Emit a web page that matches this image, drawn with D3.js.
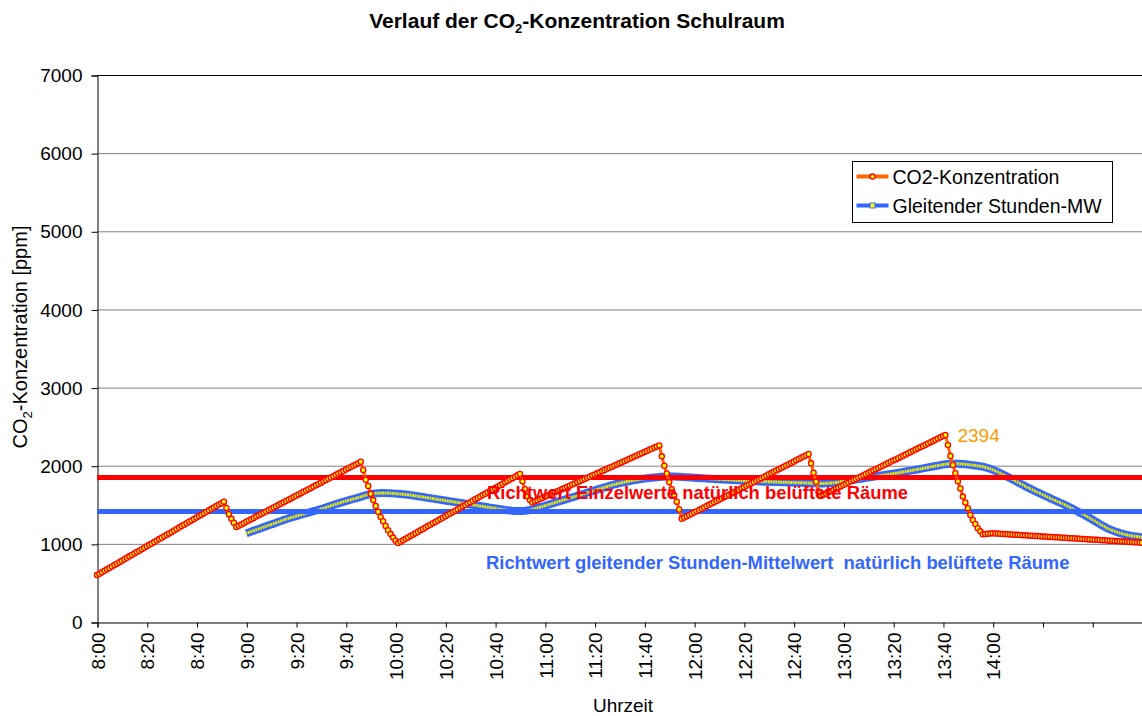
<!DOCTYPE html>
<html>
<head>
<meta charset="utf-8">
<script src="https://cdn.jsdelivr.net/npm/d3@7"></script>
<style>
  body { margin: 0; background: #fff; }
  svg { font-family: "Liberation Sans", Arial, sans-serif; }
</style>
</head>
<body>
<div id="chart"></div>
<script>
// x positions are minutes after 8:00, one reading per minute
var tickMinutes = [0, 20, 40, 60, 80, 100, 120, 140, 160, 180, 200, 220, 240, 260, 280, 300, 320, 340, 360, 380, 400];
var tickLabels = ["8:00", "8:20", "8:40", "9:00", "9:20", "9:40", "10:00", "10:20", "10:40", "11:00", "11:20",
    "11:40", "12:00", "12:20", "12:40", "13:00", "13:20", "13:40", "14:00", "", ""];
var yTicks = [0, 1000, 2000, 3000, 4000, 5000, 6000, 7000];

// CO2 readings, from 8:00 (minute 0) to 15:00 (minute 420)
var co2Start = 0;
var co2Values = [
    600, 618, 637, 655, 674, 692, 711, 729, 747, 766, 784, 803, 821, 840, 858, 876, 895, 913, 932, 950,
    969, 987, 1005, 1024, 1042, 1061, 1079, 1098, 1116, 1134, 1153, 1171, 1190, 1208, 1227, 1245, 1263, 1282, 1300, 1319,
    1337, 1356, 1374, 1392, 1411, 1429, 1448, 1466, 1485, 1503, 1521, 1540, 1460, 1380, 1320, 1270, 1215, 1232, 1248, 1265,
    1282, 1299, 1315, 1332, 1349, 1365, 1382, 1399, 1415, 1432, 1449, 1466, 1482, 1499, 1516, 1532, 1549, 1566, 1582, 1599,
    1616, 1633, 1649, 1666, 1683, 1699, 1716, 1733, 1749, 1766, 1783, 1800, 1816, 1833, 1850, 1866, 1883, 1900, 1916, 1933,
    1950, 1967, 1983, 2000, 2017, 2033, 2050, 1945, 1820, 1740, 1640, 1560, 1485, 1410, 1345, 1290, 1230, 1175, 1125, 1080,
    1040, 1010, 1028, 1046, 1064, 1082, 1100, 1118, 1136, 1154, 1173, 1191, 1209, 1227, 1245, 1263, 1281, 1299, 1317, 1335,
    1353, 1371, 1389, 1407, 1425, 1443, 1461, 1480, 1498, 1516, 1534, 1552, 1570, 1588, 1606, 1624, 1642, 1660, 1678, 1696,
    1714, 1732, 1750, 1768, 1787, 1805, 1823, 1841, 1859, 1877, 1895, 1800, 1700, 1605, 1560, 1530, 1544, 1559, 1573, 1587,
    1602, 1616, 1630, 1645, 1659, 1673, 1687, 1702, 1716, 1730, 1745, 1759, 1773, 1788, 1802, 1816, 1831, 1845, 1859, 1874,
    1888, 1902, 1917, 1931, 1945, 1960, 1974, 1988, 2003, 2017, 2031, 2045, 2060, 2074, 2088, 2103, 2117, 2131, 2146, 2160,
    2174, 2189, 2203, 2217, 2232, 2246, 2260, 2120, 2000, 1900, 1790, 1700, 1620, 1540, 1440, 1320, 1336, 1353, 1369, 1385,
    1401, 1418, 1434, 1450, 1466, 1483, 1499, 1515, 1532, 1548, 1564, 1580, 1597, 1613, 1629, 1645, 1662, 1678, 1694, 1711,
    1727, 1743, 1759, 1776, 1792, 1808, 1824, 1841, 1857, 1873, 1890, 1906, 1922, 1938, 1955, 1971, 1987, 2003, 2020, 2036,
    2052, 2069, 2085, 2101, 2117, 2134, 2150, 2030, 1910, 1795, 1670, 1612, 1628, 1643, 1659, 1675, 1690, 1706, 1721, 1737,
    1753, 1768, 1784, 1800, 1815, 1831, 1847, 1862, 1878, 1894, 1909, 1925, 1941, 1956, 1972, 1988, 2003, 2019, 2034, 2050,
    2066, 2081, 2097, 2113, 2128, 2144, 2160, 2175, 2191, 2206, 2222, 2238, 2253, 2269, 2285, 2300, 2316, 2332, 2347, 2363,
    2379, 2394, 2265, 2125, 2010, 1905, 1800, 1710, 1605, 1530, 1455, 1370, 1305, 1255, 1200, 1160, 1122, 1126, 1129, 1132,
    1135, 1133, 1131, 1129, 1127, 1125, 1123, 1121, 1119, 1117, 1115, 1113, 1111, 1109, 1107, 1105, 1103, 1101, 1099, 1097,
    1095, 1093, 1091, 1089, 1087, 1085, 1083, 1081, 1079, 1077, 1075, 1073, 1071, 1069, 1067, 1065, 1063, 1061, 1059, 1057,
    1055, 1053, 1051, 1049, 1047, 1045, 1043, 1041, 1039, 1037, 1035, 1033, 1031, 1029, 1027, 1025, 1023, 1021, 1019, 1017,
    1015
];

// gliding hourly mean, from 9:00 (minute 60) to 15:00
var meanStart = 60;
var meanValues = [
    1135, 1146, 1158, 1169, 1180, 1191, 1203, 1214, 1225, 1237, 1248, 1259, 1271, 1282, 1293, 1305, 1316, 1327, 1336, 1345,
    1354, 1364, 1373, 1382, 1391, 1400, 1409, 1418, 1427, 1437, 1446, 1455, 1466, 1477, 1488, 1498, 1508, 1518, 1528, 1538,
    1547, 1556, 1565, 1574, 1583, 1592, 1601, 1612, 1622, 1631, 1638, 1643, 1646, 1648, 1650, 1650, 1650, 1649, 1648, 1646,
    1643, 1640, 1637, 1634, 1631, 1628, 1624, 1619, 1614, 1609, 1604, 1599, 1594, 1589, 1584, 1579, 1574, 1569, 1564, 1559,
    1554, 1549, 1544, 1539, 1534, 1529, 1524, 1519, 1514, 1509, 1504, 1499, 1494, 1489, 1484, 1479, 1474, 1469, 1464, 1459,
    1454, 1449, 1444, 1439, 1434, 1430, 1426, 1423, 1421, 1420, 1420, 1421, 1423, 1427, 1434, 1442, 1451, 1460, 1469, 1478,
    1487, 1497, 1507, 1517, 1527, 1537, 1546, 1556, 1566, 1576, 1586, 1596, 1605, 1615, 1625, 1635, 1645, 1655, 1664, 1674,
    1684, 1694, 1704, 1714, 1724, 1733, 1743, 1753, 1761, 1769, 1776, 1783, 1790, 1797, 1803, 1809, 1815, 1821, 1826, 1831,
    1835, 1839, 1843, 1847, 1850, 1853, 1856, 1858, 1860, 1861, 1862, 1862, 1861, 1860, 1858, 1856, 1854, 1852, 1850, 1848,
    1846, 1844, 1842, 1840, 1838, 1836, 1834, 1832, 1830, 1828, 1826, 1825, 1823, 1821, 1820, 1818, 1816, 1814, 1813, 1811,
    1809, 1808, 1806, 1804, 1803, 1801, 1799, 1798, 1796, 1795, 1794, 1793, 1792, 1791, 1790, 1789, 1788, 1787, 1786, 1785,
    1784, 1783, 1782, 1781, 1780, 1779, 1778, 1777, 1776, 1775, 1774, 1774, 1774, 1775, 1776, 1778, 1781, 1785, 1789, 1794,
    1799, 1804, 1809, 1814, 1819, 1824, 1829, 1834, 1839, 1844, 1849, 1854, 1859, 1864, 1869, 1874, 1879, 1884, 1889, 1894,
    1899, 1903, 1909, 1915, 1920, 1926, 1932, 1937, 1943, 1949, 1954, 1960, 1966, 1972, 1978, 1984, 1990, 1996, 2002, 2008,
    2014, 2019, 2023, 2025, 2026, 2026, 2025, 2023, 2021, 2018, 2015, 2011, 2007, 2003, 1998, 1993, 1988, 1980, 1970, 1960,
    1948, 1935, 1920, 1905, 1889, 1873, 1857, 1841, 1824, 1807, 1790, 1773, 1756, 1739, 1722, 1706, 1690, 1675, 1660, 1645,
    1630, 1615, 1600, 1585, 1570, 1556, 1542, 1528, 1514, 1500, 1485, 1468, 1451, 1434, 1417, 1400, 1383, 1366, 1348, 1330,
    1311, 1292, 1273, 1254, 1236, 1218, 1200, 1186, 1173, 1161, 1150, 1140, 1130, 1121, 1113, 1107, 1102, 1097, 1093, 1089,
    1085
];

var limitSingle = 1850;   // Richtwert Einzelwerte
var limitMean = 1415;     // Richtwert gleitender Stunden-Mittelwert
var peakValue = 2394;
var peakMinute = 341;

var width = 1142, height = 716;
var margin = { top: 75, right: 0, bottom: 94, left: 97 };

var svg = d3.select("#chart").append("svg")
    .attr("width", width)
    .attr("height", height);

var xScale = d3.scaleLinear().domain([0, 420]).range([margin.left, width - margin.right]);
var yScale = d3.scaleLinear().domain([0, 7000]).range([height - margin.bottom, margin.top]);

// title with subscript
var title = svg.append("text")
    .attr("x", 577)
    .attr("y", 28)
    .attr("text-anchor", "middle")
    .style("font-size", "21px")
    .style("font-weight", "bold");
title.append("tspan").text("Verlauf der CO");
title.append("tspan").attr("dy", 5).style("font-size", "13px").text("2");
title.append("tspan").attr("dy", -5).text("-Konzentration Schulraum");

// gridlines
svg.append("g")
    .selectAll("line")
    .data(yTicks.filter(function(d) { return d > 0; }))
    .enter().append("line")
    .attr("x1", margin.left)
    .attr("x2", width)
    .attr("y1", function(d) { return yScale(d) + 0.5; })
    .attr("y2", function(d) { return yScale(d) + 0.5; })
    .attr("stroke", function(d) { return d === 7000 ? "#000" : "#808080"; })
    .attr("stroke-width", 1);

// y axis
var yAxis = svg.append("g")
    .attr("transform", "translate(" + (margin.left + 0.5) + ",0.5)")
    .call(d3.axisLeft(yScale).tickValues(yTicks).tickSize(6).tickPadding(9).tickFormat(d3.format("d")));
yAxis.select(".domain").attr("stroke", "#000");
yAxis.selectAll("text").style("font-size", "19px").attr("fill", "#000");

// x axis
var xAxis = svg.append("g")
    .attr("transform", "translate(0.5," + (yScale(0) + 0.5) + ")")
    .call(d3.axisBottom(xScale).tickValues(tickMinutes).tickSize(5)
        .tickFormat(function(d, i) { return tickLabels[i]; }));
xAxis.select(".domain").attr("stroke", "#000");
xAxis.selectAll("text")
    .style("font-size", "19px")
    .attr("fill", "#000")
    .attr("text-anchor", "end")
    .attr("transform", "rotate(-90)")
    .attr("x", -10)
    .attr("y", 0)
    .attr("dy", "0.35em");

// axis titles
var yLabel = svg.append("text")
    .attr("transform", "translate(27,337) rotate(-90)")
    .attr("text-anchor", "middle")
    .style("font-size", "20px");
yLabel.append("tspan").text("CO");
yLabel.append("tspan").attr("dy", 5).style("font-size", "13px").text("2");
yLabel.append("tspan").attr("dy", -5).text("-Konzentration [ppm]");

svg.append("text")
    .attr("x", 623)
    .attr("y", 712)
    .attr("text-anchor", "middle")
    .style("font-size", "19px")
    .text("Uhrzeit");

var plot = svg.append("g");

var meanData = meanValues.map(function(v, i) { return [meanStart + i, v]; });
var co2Data = co2Values.map(function(v, i) { return [co2Start + i, v]; });

var line = d3.line()
    .x(function(d) { return xScale(d[0]); })
    .y(function(d) { return yScale(d[1]); });

// gliding mean series
plot.append("path")
    .datum(meanData)
    .attr("d", line)
    .attr("fill", "none")
    .attr("stroke", "#3366FF")
    .attr("stroke-width", 8);

plot.selectAll(".meanPt")
    .data(meanData)
    .enter().append("rect")
    .attr("class", "meanPt")
    .attr("x", function(d) { return xScale(d[0]) - 1; })
    .attr("y", function(d) { return yScale(d[1]) - 1.5; })
    .attr("width", 2)
    .attr("height", 3)
    .attr("fill", "#E8E800");

// reference lines
plot.append("line")
    .attr("x1", xScale(0)).attr("x2", xScale(420))
    .attr("y1", yScale(limitMean)).attr("y2", yScale(limitMean))
    .attr("stroke", "#3366FF")
    .attr("stroke-width", 5);

plot.append("line")
    .attr("x1", xScale(0)).attr("x2", xScale(420))
    .attr("y1", yScale(limitSingle)).attr("y2", yScale(limitSingle))
    .attr("stroke", "#FF0000")
    .attr("stroke-width", 5);

// CO2 series
plot.append("path")
    .datum(co2Data)
    .attr("d", line)
    .attr("fill", "none")
    .attr("stroke", "#FF6600")
    .attr("stroke-width", 3);

plot.selectAll(".co2Pt")
    .data(co2Data)
    .enter().append("circle")
    .attr("class", "co2Pt")
    .attr("cx", function(d) { return xScale(d[0]); })
    .attr("cy", function(d) { return yScale(d[1]); })
    .attr("r", 2.6)
    .attr("fill", "#FFFF00")
    .attr("stroke", "#FF0000")
    .attr("stroke-width", 1.3);

// labels
svg.append("text")
    .attr("x", xScale(peakMinute) + 12)
    .attr("y", yScale(peakValue) + 7)
    .style("font-size", "19px")
    .attr("fill", "#FF9900")
    .text(peakValue);

svg.append("text")
    .attr("x", 487)
    .attr("y", 499)
    .style("font-size", "18.4px")
    .style("font-weight", "bold")
    .attr("fill", "#FF0000")
    .text("Richtwert Einzelwerte natürlich belüftete Räume");

svg.append("text")
    .attr("x", 486)
    .attr("y", 569)
    .style("font-size", "18.4px")
    .style("font-weight", "bold")
    .attr("fill", "#3366FF")
    .style("white-space", "pre")
    .text("Richtwert gleitender Stunden-Mittelwert  natürlich belüftete Räume");

// legend
var legend = svg.append("g").attr("transform", "translate(852.5,161.5)");
legend.append("rect")
    .attr("width", 260)
    .attr("height", 61)
    .attr("fill", "#fff")
    .attr("stroke", "#000");

var legendItems = [
    { name: "CO2-Konzentration", color: "#FF6600", y: 15, marker: "circle" },
    { name: "Gleitender Stunden-MW", color: "#3366FF", y: 44, marker: "square" }
];
legendItems.forEach(function(item) {
    legend.append("line")
        .attr("x1", 4).attr("x2", 36)
        .attr("y1", item.y).attr("y2", item.y)
        .attr("stroke", item.color)
        .attr("stroke-width", 4);
    if (item.marker === "circle") {
        legend.append("circle")
            .attr("cx", 20).attr("cy", item.y).attr("r", 2.5)
            .attr("fill", "#FFFF00").attr("stroke", "#FF0000").attr("stroke-width", 1.3);
    } else {
        legend.append("rect")
            .attr("x", 17.5).attr("y", item.y - 2.5).attr("width", 5).attr("height", 5)
            .attr("fill", "#FFFF00").attr("stroke", "#3366FF").attr("stroke-width", 1);
    }
    legend.append("text")
        .attr("x", 40)
        .attr("y", item.y + 7)
        .style("font-size", "19.5px")
        .text(item.name);
});
</script>
</body>
</html>
